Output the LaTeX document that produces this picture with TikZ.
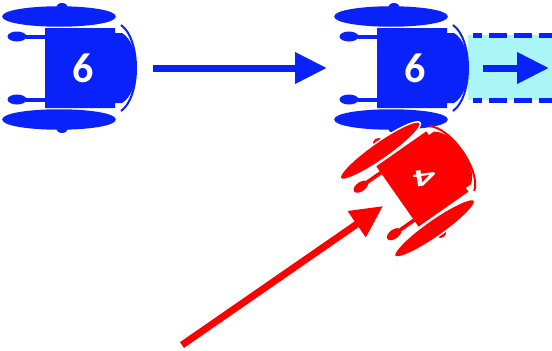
\documentclass[tikz,border=0pt]{standalone}
\usepackage{fontspec}
\setmainfont{Carlito}
\usepackage{tikz}
\usetikzlibrary{arrows.meta}
\definecolor{chairblue}{RGB}{10,34,250}
\definecolor{chairred}{RGB}{255,0,0}
\definecolor{lanecyan}{RGB}{170,245,245}
\tikzstyle{number} = [text=white, font=\fontsize{42}{42}\selectfont\bfseries, inner sep=0pt]
\tikzstyle{arrow} = [line width=7pt, -{Triangle[length=32pt,width=30pt]}]
\tikzstyle{lane} = [chairblue, line width=5pt, dash pattern=on 18pt off 7pt, dash phase=9pt]
% wheelchair seen from above, front to the right: #1 fill, #2 wheel rim
\newcommand{\wheelchair}[2]{%
	\fill[#1] (-38,-40) -- (32,-40) -- (32,-35) -- (39,-35) .. controls (58,-24) and (58,24) .. (39,35) -- (32,35) -- (32,40) -- (-38,40) -- cycle;
	\draw[#1, line width=2pt] (38,-43) .. controls (58,-29) and (58,29) .. (38,43);
	\fill[#1] (-57,-33.5) rectangle (-38,-29.5);
	\fill[#1] (-57,33.5) rectangle (-38,29.5);
	\fill[#1] (-66,-31.5) ellipse [x radius=9.5, y radius=5];
	\fill[#1] (-66,31.5) ellipse [x radius=9.5, y radius=5];
	\fill[#1] (-21,-60) ellipse [x radius=6, y radius=5];
	\fill[#1] (-21,60) ellipse [x radius=6, y radius=5];
	\filldraw[fill=#1, draw=#2, line width=1.5pt] (-24,-51.5) ellipse [x radius=56, y radius=9.5];
	\filldraw[fill=#1, draw=#2, line width=1.5pt] (-24,51.5) ellipse [x radius=56, y radius=9.5];
}

\begin{document}
\begin{tikzpicture}[x=1pt, y=-1pt]
		\useasboundingbox (0,0) rectangle (552,351);
		\clip (0,0) rectangle (552,351);
		% lane ahead of the second chair
		\fill[lanecyan] (468,35) rectangle (560,100);
		\draw[lane] (473,35) -- (560,35);
		\draw[lane] (473,100) -- (560,100);
		
		\begin{scope}[shift={(83,68)}]
			\wheelchair{chairblue}{chairblue}
		\end{scope}
		\begin{scope}[shift={(415,68)}]
			\wheelchair{chairblue}{chairblue}
		\end{scope}
		\node (six1) [number] at (83,68) {6};
		\node (six2) [number] at (415,68) {6};
		
		\coordinate (go1) at (153,68);
		\coordinate (stop1) at (327,68);
		\coordinate (go2) at (483,68);
		\coordinate (stop2) at (549,68);
		\coordinate (go3) at (182,345);
		\coordinate (stop3) at (383,206);
		%arrows
		\draw [arrow, chairblue] (go1) -- (stop1);
		\draw [arrow, chairblue] (go2) -- (stop2);
		\draw [arrow, chairred] (go3) -- (stop3);
		
		\begin{scope}[shift={(424.5,177.5)}, rotate=35, xscale=0.87, yscale=0.92]
			\wheelchair{chairred}{white}
		\end{scope}
		\node (four) [number, font=\fontsize{34}{34}\selectfont\bfseries, rotate=188, xscale=1.35, yscale=0.72] at (424.5,177.5) {4};
		
	\end{tikzpicture}
\end{document}
